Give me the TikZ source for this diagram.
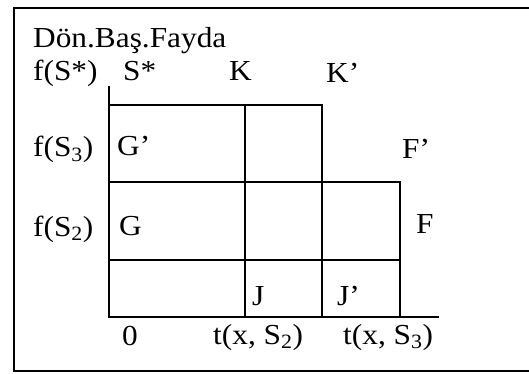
\documentclass[tikz,border=0pt]{standalone}
\usepackage{fontspec}
\setmainfont{Liberation Serif}
\newcommand{\wtxt}[1]{\scalebox{1.08}[1]{#1}}
\begin{document}
\begin{tikzpicture}[x=1pt,y=-1pt,
  lbl/.style={anchor=base west,inner sep=0pt,font=\fontsize{29}{31}\selectfont},
  frame/.style={line width=2.4pt},
  grid/.style={line width=2pt}]
\useasboundingbox (0,0) rectangle (529,374);
\fill[white] (0,0) rectangle (529,374);
% outer frame (right edge lies outside the picture)
\draw[frame] (540,8) -- (14,8) -- (14,371) -- (540,371);
% axes
\coordinate (ytop) at (109,86);
\coordinate (org) at (109,317);
\coordinate (xend) at (439,317);
\draw[grid] (ytop) -- (org) -- (xend);
% boxes
\coordinate (a1) at (109,105);
\coordinate (a2) at (322,105);
\coordinate (a3) at (322,317);
\draw[grid] (a1) -- (a2) -- (a3);
\coordinate (b1) at (109,182);
\coordinate (b2) at (400,182);
\coordinate (b3) at (400,317);
\draw[grid] (b1) -- (b2) -- (b3);
\coordinate (c1) at (109,260);
\coordinate (c2) at (400,260);
\draw[grid] (c1) -- (c2);
\coordinate (d1) at (245,105);
\coordinate (d2) at (245,317);
\draw[grid] (d1) -- (d2);
% labels
\node[lbl] (title) at (33,48) {\wtxt{Dön.Baş.Fayda}};
\node[lbl] (fss) at (33,81) {\wtxt{f(S*)}};
\node[lbl] (ss) at (123,81) {\wtxt{S*}};
\node[lbl] (k) at (229,81) {\wtxt{K}};
\node[lbl] (kp) at (326,83) {\wtxt{K’}};
\node[lbl] (fs3) at (33,157) {\wtxt{f(S\textsubscript{3})}};
\node[lbl] (gp) at (117,156) {\wtxt{G’}};
\node[lbl] (fp) at (402,158) {\wtxt{F’}};
\node[lbl] (fs2) at (33,236) {\wtxt{f(S\textsubscript{2})}};
\node[lbl] (g) at (119,235) {\wtxt{G}};
\node[lbl] (f) at (416,233) {\wtxt{F}};
\node[lbl] (j) at (252,305) {\wtxt{J}};
\node[lbl] (jp) at (337,305) {\wtxt{J’}};
\node[lbl] (zero) at (122,345) {\wtxt{0}};
\node[lbl] (t2) at (213,344) {\wtxt{t(x, S\textsubscript{2})}};
\node[lbl] (t3) at (343,344) {\wtxt{t(x, S\textsubscript{3})}};
\end{tikzpicture}
\end{document}
